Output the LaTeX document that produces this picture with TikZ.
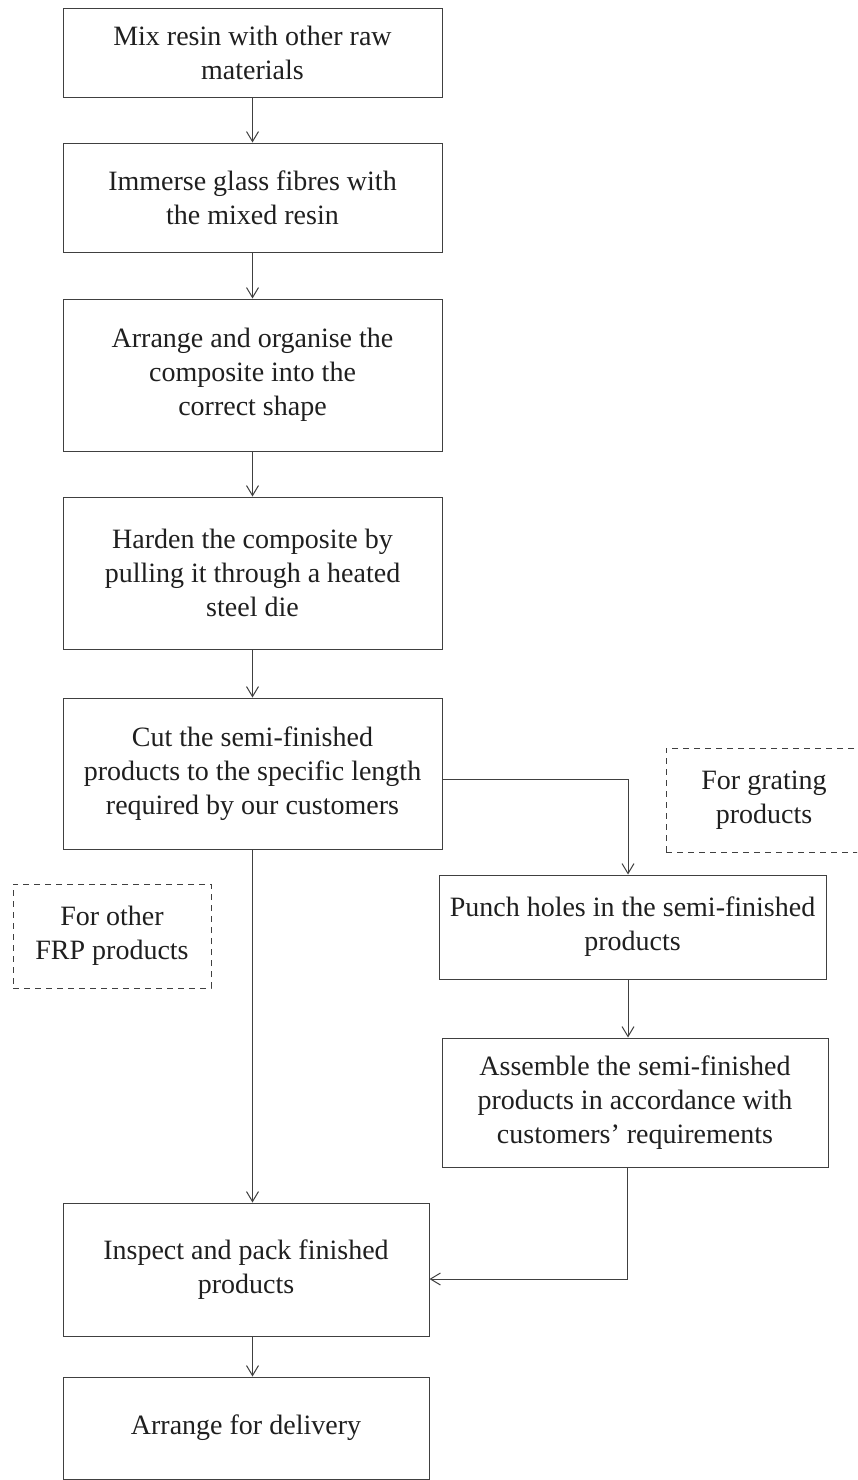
\documentclass[tikz,border=0pt]{standalone}
\usepackage{fontspec}
\setmainfont{Liberation Serif}
\usetikzlibrary{arrows.meta}
\begin{document}
\begin{tikzpicture}[x=1pt,y=-1pt,
  box/.style={draw=black!75, line width=1pt, align=center, inner sep=0pt,
    font=\fontsize{28}{34}\selectfont, text=black!88},
  note/.style={box, dash pattern=on 6pt off 5pt},
  arr/.style={draw=black!75, line width=1pt, -{Straight Barb[length=10pt,width=12pt]}},
  link/.style={draw=black!75, line width=1pt}]
\useasboundingbox (0,0) rectangle (857,1480);

\node[box, minimum width=379pt, minimum height=88pt]  (b1) at (252.5,53)    {Mix resin with other raw\\materials};
\node[box, minimum width=379pt, minimum height=109pt] (b2) at (252.5,197.5) {Immerse glass fibres with\\the mixed resin};
\node[box, minimum width=379pt, minimum height=152pt] (b3) at (252.5,375)   {Arrange and organise the\\composite into the\\correct shape};
\node[box, minimum width=379pt, minimum height=152pt] (b4) at (252.5,573)   {Harden the composite by\\pulling it through a heated\\steel die};
\node[box, minimum width=379pt, minimum height=151pt] (b5) at (252.5,773.5) {Cut the semi-finished\\products to the specific length\\required by our customers};
\node[box, minimum width=387pt, minimum height=104pt] (punch) at (632.5,927) {Punch holes in the semi-finished\\products};
\node[box, minimum width=386pt, minimum height=129pt] (asm) at (635,1102.5) {Assemble the semi-finished\\products in accordance with\\customers’ requirements};
\node[box, minimum width=366pt, minimum height=133pt] (insp) at (246,1269.5) {Inspect and pack finished\\products};
\node[box, minimum width=366pt, minimum height=102pt] (deliv) at (246,1428) {Arrange for delivery};

\node[note, minimum width=198pt, minimum height=104pt] (other) at (112,936) {For other\\FRP products};
\begin{scope}
\clip (0,0) rectangle (857,1480);
\node[note, minimum width=196pt, minimum height=104pt] (grating) at (764,800) {For grating\\products};
\end{scope}

\draw[arr] (b1) -- (b2);
\draw[arr] (b2) -- (b3);
\draw[arr] (b3) -- (b4);
\draw[arr] (b4) -- (b5);
\draw[arr] (b5.south) -- (b5.south |- insp.north);
\draw[arr] (b5.south |- insp.south) -- (b5.south |- deliv.north);
\coordinate (split) at ([xshift=-4.5pt]punch.north);
\draw[arr] ([yshift=-5.5pt]b5.east) -| (split);
\draw[arr] ([xshift=-4.5pt]punch.south) -- ([xshift=-4.5pt]punch.south |- asm.north);
\coordinate (turn) at ([xshift=-8pt]asm.south |- 0,1279);
\draw[arr] ([xshift=-8pt]asm.south) -- (turn) -- (turn -| insp.east);
\end{tikzpicture}
\end{document}
